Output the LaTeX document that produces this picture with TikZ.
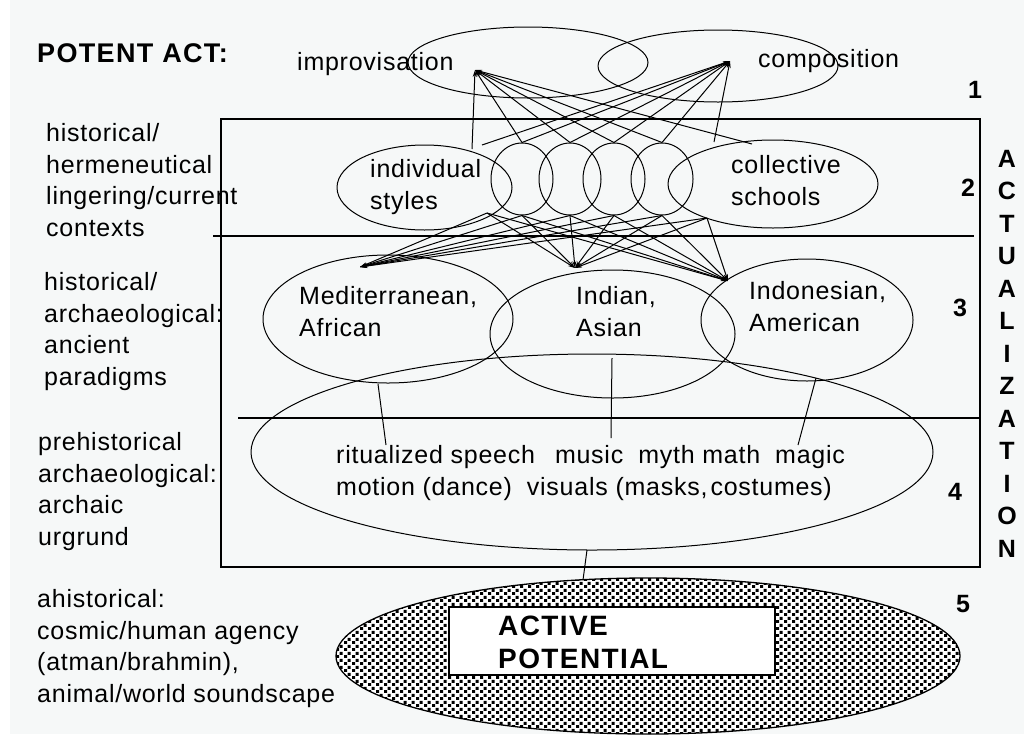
\documentclass[tikz,border=0pt]{standalone}
\usepackage{fontspec}
\newfontfamily\rf{Liberation Sans}[LetterSpace=3]
\newfontfamily\boldf{Liberation Sans}[LetterSpace=5]
\usetikzlibrary{shapes.geometric,arrows.meta,patterns.meta}
\definecolor{bgc}{RGB}{246,248,248}
\tikzdeclarepattern{name=ddots,type=uncolored,
  bounding box={(0pt,0pt) and (8pt,7pt)},tile size={(8pt,7pt)},
  code={\fill (0pt,0pt) rectangle (3.4pt,3.4pt); \fill (4pt,3.5pt) rectangle (7.4pt,6.9pt);}}
\begin{document}
\begin{tikzpicture}[x=1pt,y=-1pt,
  txt/.style={font=\rf\fontsize{25}{31.5}\selectfont, anchor=base west, align=left, inner sep=0pt},
  btxt/.style={font=\boldf\bfseries\fontsize{27}{33}\selectfont, anchor=base west, align=left, inner sep=0pt},
  num/.style={font=\boldf\bfseries\fontsize{25}{32.5}\selectfont, inner sep=0pt},
  ell/.style={ellipse, draw, line width=1pt, inner sep=0pt},
  net/.style={line width=1pt},
  conv/.style={net, -{Stealth[length=7pt,width=4pt]}},
  rulel/.style={line width=1.3pt}]
\useasboundingbox (0,0) rectangle (1024,734);
\fill[bgc] (0,0) rectangle (1024,734);
\fill[white] (0,0) rectangle (10,734);

% frame
\draw[rulel] (221,119) rectangle (980,567);
\draw[rulel] (213,236) -- (974,236);
\draw[rulel] (238,418) -- (980,418);

% ellipses
\node[ell, minimum width=240pt, minimum height=71pt] (eImp) at (528,62.5) {};
\node[ell, minimum width=240pt, minimum height=72pt] (eComp) at (718,66) {};
\node[ell, minimum width=175pt, minimum height=85pt] (eIndiv) at (424.5,187.5) {};
\node[ell, minimum width=62pt, minimum height=72pt] (c1) at (522,179) {};
\node[ell, minimum width=62pt, minimum height=72pt] (c2) at (570,179) {};
\node[ell, minimum width=62pt, minimum height=72pt] (c3) at (614,179) {};
\node[ell, minimum width=62pt, minimum height=72pt] (c4) at (662,179) {};
\node[ell, minimum width=210pt, minimum height=88pt] (eColl) at (773,184) {};
\node[ell, minimum width=250pt, minimum height=128pt] (eMed) at (388,319) {};
\node[ell, minimum width=245pt, minimum height=128pt] (eAsia) at (612.5,334) {};
\node[ell, minimum width=212pt, minimum height=122pt] (eIndo) at (807,320) {};
\node[ell, minimum width=682pt, minimum height=196pt] (eRit) at (592,452) {};
\node[ell, line width=1.3pt, minimum width=624pt, minimum height=156pt,
      preaction={fill=white}, pattern=ddots] (eTex) at (648,656) {};
\node[draw, line width=1.3pt, fill=white, minimum width=326pt, minimum height=68pt,
      inner sep=0pt] (apBox) at (612,641) {};

% junction points
\coordinate (pA) at (475,70);
\coordinate (pB) at (730,61);
\coordinate (tIndA) at (472,149);
\coordinate (tIndB) at (482,145);
\coordinate (tCollA) at (752,144);
\coordinate (tCollB) at (714,142);
\coordinate (bIndiv) at (487,213);
\coordinate (bColl) at (707,218);
\coordinate (pC1) at (360,267);
\coordinate (pC2) at (575,268);
\coordinate (pC3) at (728,281);

% network
\foreach \pp in {tIndA,c1.north,c2.north,c3.north,c4.north,tCollA}
  \draw[conv] (\pp) -- (pA);
\foreach \pp in {tIndB,c1.north,c2.north,c3.north,c4.north,tCollB}
  \draw[conv] (\pp) -- (pB);
\foreach \qq in {pC1,pC2,pC3}
  \foreach \pp in {bIndiv,c1.south,c2.south,c3.south,c4.south,bColl}
    \draw[conv] (\pp) -- (\qq);

% short links
\coordinate (l1a) at (378,384); \coordinate (l1b) at (386,445);
\coordinate (l2a) at (612,358); \coordinate (l2b) at (611,438);
\coordinate (l3a) at (816,378); \coordinate (l3b) at (798,445);
\coordinate (kRit) at (587,550); \coordinate (kTex) at (583,580);
\draw[net] (l1a) -- (l1b);
\draw[net] (l2a) -- (l2b);
\draw[net] (l3a) -- (l3b);
\draw[net] (kRit) -- (kTex);

% texts (base anchor = baseline of the last line)
\node[btxt] (tPotent) at (37,62) {POTENT ACT:};
\node[txt] (tImp) at (297,70) {improvisation};
\node[txt] (tComp) at (758,67) {composition};
\node[txt] (tG1) at (46,236) {historical/\\hermeneutical\\lingering/current\\contexts};
\node[txt] (tG2) at (44,385) {historical/\\archaeological:\\ancient\\paradigms};
\node[txt] (tG3) at (38,545) {prehistorical\\archaeological:\\archaic\\urgrund};
\node[txt] (tG4) at (37,702) {ahistorical:\\cosmic/human agency\\(atman/brahmin),\\animal/world soundscape};
\node[txt] (tIndiv) at (370,209) {individual\\styles};
\node[txt] (tColl) at (731,205) {collective\\schools};
\node[txt] (tMed) at (299,336) {Mediterranean,\\African};
\node[txt] (tAsia) at (576,336) {Indian,\\Asian};
\node[txt] (tIndo) at (749,331) {Indonesian,\\American};
\node[txt] (tRit) at (336,495) {ritualized speech\hspace{20pt}music\hspace{15pt}myth math\hspace{15pt}magic\\motion (dance)\hspace{15pt}visuals (masks,\hspace{3pt}costumes)};
\node[btxt, font=\boldf\bfseries\fontsize{28}{33}\selectfont] (tAP) at (498,668) {ACTIVE\\POTENTIAL};

% numbers
\node[num] (n1) at (975,90) {1};
\node[num] (n2) at (968,188) {2};
\node[num] (n3) at (960,308) {3};
\node[num] (n4) at (955,492) {4};
\node[num] (n5) at (963,604) {5};
\node[num, align=center, anchor=base] (tAct) at (1007,557) {A\\C\\T\\U\\A\\L\\I\\Z\\A\\T\\I\\O\\N};
\end{tikzpicture}
\end{document}
